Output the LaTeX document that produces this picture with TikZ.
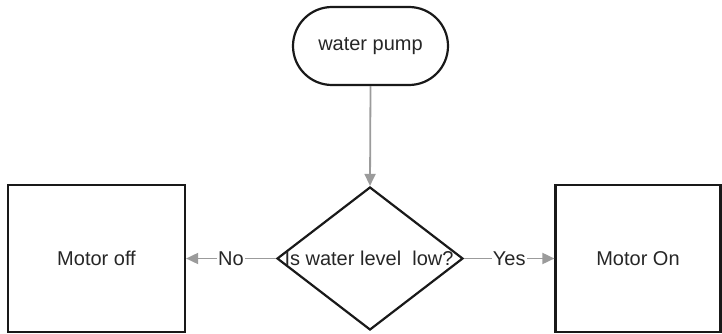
\documentclass[tikz,border=0pt]{standalone}
\usepackage{fontspec}
\setmainfont{Liberation Sans}
\usetikzlibrary{shapes.geometric,arrows.meta}
\definecolor{conn}{RGB}{155,155,155}
\begin{document}
\begin{tikzpicture}[x=1pt,y=-1pt,
  every node/.style={font=\fontsize{20}{24}\selectfont, text=black!85},
  shapebox/.style={draw=black!90, line width=2.2pt, inner sep=0pt},
  connector/.style={draw=conn, line width=1.8pt, -{Triangle[length=12pt,width=11pt]}},
  edgelabel/.style={fill=white, inner sep=1pt}]
\useasboundingbox (0,0) rectangle (722,334);
\node[shapebox, rectangle, rounded corners=39pt, minimum width=155pt, minimum height=78pt] (pump) at (370.5,46) {water pump};
\node[shapebox, diamond, minimum width=186pt, minimum height=143pt] (dec) at (370,258.5) {};
\node (dectext) at (369,258) {Is water level\ \ low?};
\node[shapebox, rectangle, minimum width=177pt, minimum height=147pt] (off) at (96.5,258.5) {Motor off};
\node[shapebox, rectangle, minimum width=165pt, minimum height=147pt] (on) at (638,258.5) {Motor On};
\draw[connector] (pump.south) -- (dec.north);
\draw[connector] (dec.west) -- node[edgelabel] {No} (off.east);
\draw[connector] (dec.east) -- node[edgelabel] {Yes} (on.west);
\end{tikzpicture}
\end{document}
